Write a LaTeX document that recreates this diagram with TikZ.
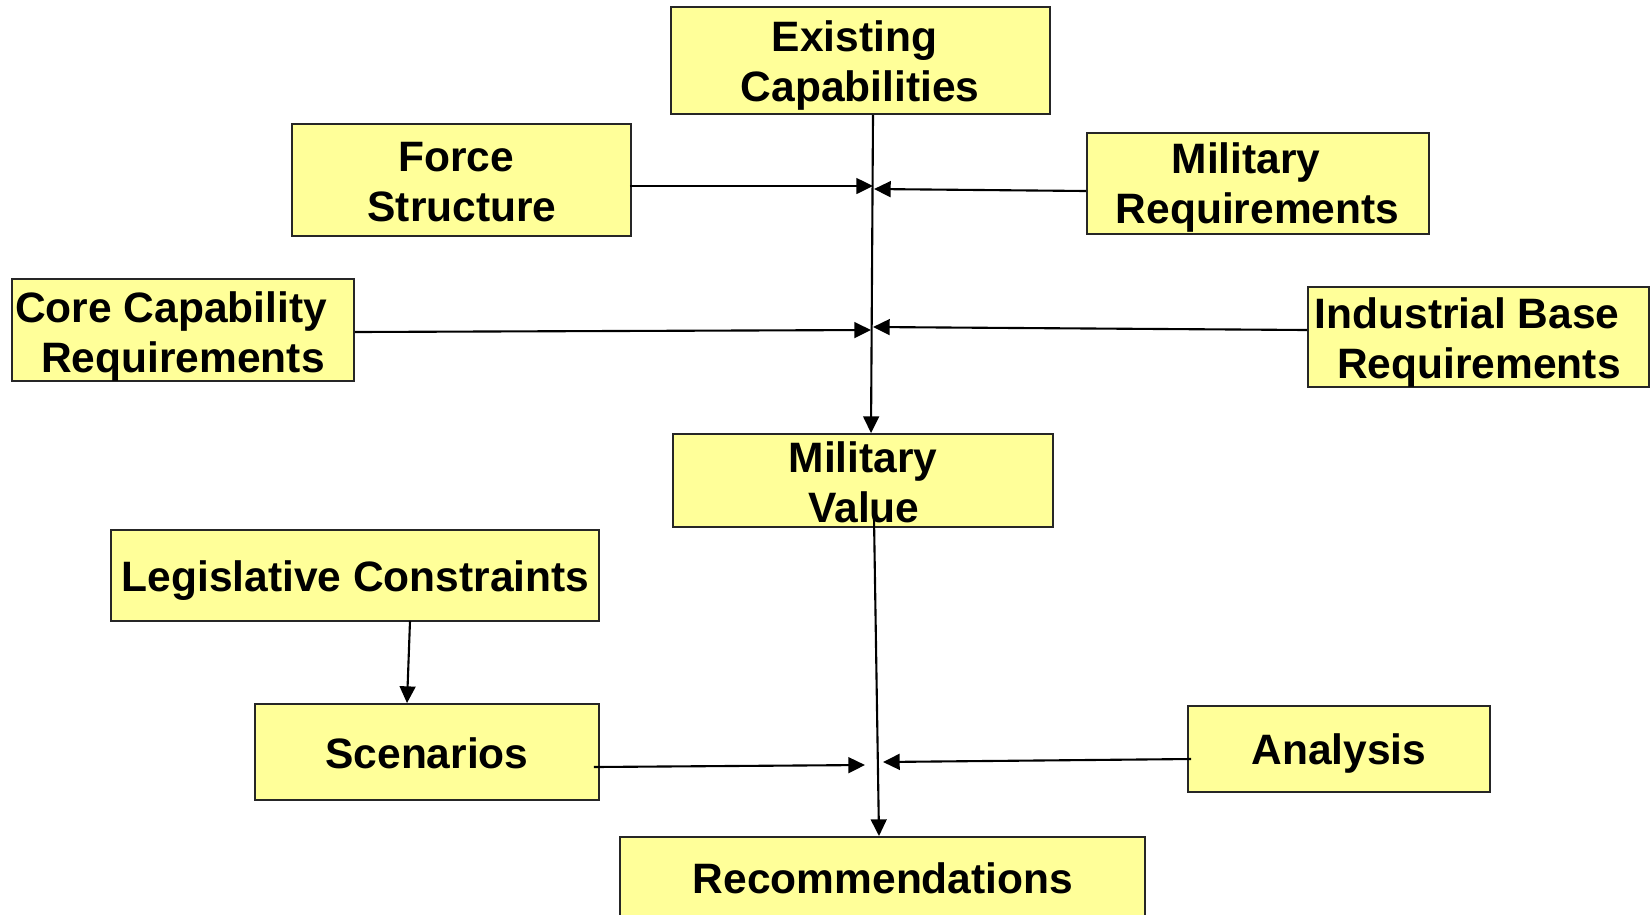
\documentclass[tikz,border=0pt]{standalone}
\usepackage{fontspec}
\setmainfont{Liberation Sans}
\usetikzlibrary{arrows.meta,calc}
\definecolor{boxfill}{HTML}{FFFF99}
\begin{document}
\begin{tikzpicture}[x=0.02cm,y=-0.02cm,
  box/.style={draw=black!85, line width=1.1pt, fill=boxfill, inner sep=0pt},
  lbl/.style={anchor=base, inner sep=0pt, font=\fontsize{24.2}{28}\selectfont\bfseries},
  flow/.style={line width=1.2pt, -{Triangle[length=9.5pt,width=9pt]}},
]
\useasboundingbox (0,0) rectangle (1652,914);

% boxes
\node[box, minimum width=7.58cm, minimum height=2.14cm] (ex) at (860.5,60.5) {};
\node[box, minimum width=6.78cm, minimum height=2.24cm] (fs) at (461.5,180) {};
\node[box, minimum width=6.84cm, minimum height=2.02cm] (mr) at (1258,183.5) {};
\node[box, minimum width=6.84cm, minimum height=2.04cm] (cc) at (183,330) {};
\node[box, minimum width=6.82cm, minimum height=2.00cm] (ib) at (1478.5,337) {};
\node[box, minimum width=7.60cm, minimum height=1.86cm] (mv) at (863,480.5) {};
\node[box, minimum width=9.76cm, minimum height=1.82cm] (lc) at (355,575.5) {};
\node[box, minimum width=6.88cm, minimum height=1.92cm] (sc) at (427,752) {};
\node[box, minimum width=6.04cm, minimum height=1.72cm] (an) at (1339,749) {};
\node[box, minimum width=10.5cm, minimum height=1.76cm] (rc) at (882.5,881) {};

% box texts
\node[lbl] (ex1) at ([shift={(-6,-9.5)}]ex.center) {Existing};
\node[lbl] (ex2) at ([shift={(-0.5,41)}]ex.center) {Capabilities};
\node[lbl] (fs1) at ([shift={(-5.5,-9)}]fs.center) {Force};
\node[lbl] (fs2) at ([shift={(0.5,41)}]fs.center) {Structure};
\node[lbl] (mr1) at ([shift={(-12,-10.5)}]mr.center) {Military};
\node[lbl] (mr2) at ([shift={(-0.5,39.5)}]mr.center) {Requirements};
\node[lbl] (cc1) at ([shift={(-12,-8)}]cc.center) {Core Capability};
\node[lbl] (cc2) at ([shift={(0,42)}]cc.center) {Requirements};
\node[lbl] (ib1) at ([shift={(-11.5,-9)}]ib.center) {Industrial Base};
\node[lbl] (ib2) at ([shift={(0.5,41.5)}]ib.center) {Requirements};
\node[lbl] (mv1) at ([shift={(0,-8.5)}]mv.center) {Military};
\node[lbl] (mv2) at ([shift={(1,41.5)}]mv.center) {Value};
\node[lbl] (lc1) at ([shift={(0.5,15.5)}]lc.center) {Legislative Constraints};
\node[lbl] (sc1) at ([shift={(0,16)}]sc.center) {Scenarios};
\node[lbl] (an1) at ([shift={(0,15)}]an.center) {Analysis};
\node[lbl] (rc1) at ([shift={(0.5,12)}]rc.center) {Recommendations};

% junction points on the main flow line
\coordinate (jfs) at (873,186);
\coordinate (jmr) at (874,189);
\coordinate (jcc) at (871,330);
\coordinate (jib) at (873,327);
\coordinate (jsc) at (865,765);
\coordinate (jan) at (883,762);

% connectors
\draw[flow] ($(ex.south)+(12.5,0)$) -- ($(mv.north)+(8,0)$);
\draw[flow] ($(fs.east)+(-2,6)$) -- (jfs);
\draw[flow] ($(mr.west)+(0,7.5)$) -- (jmr);
\draw[flow] ($(cc.east)+(0,2)$) -- (jcc);
\draw[flow] ($(ib.west)+(0,-7)$) -- (jib);
\draw[flow] ($(mv.south)+(11,-10)$) -- ($(rc.north)+(-3.5,0)$);
\draw[flow] ($(lc.south)+(55,-1)$) -- ($(sc.north)+(-20,0)$);
\draw[flow] ($(sc.east)+(-6,15)$) -- (jsc);
\draw[flow] ($(an.west)+(4,10)$) -- (jan);
\end{tikzpicture}
\end{document}
